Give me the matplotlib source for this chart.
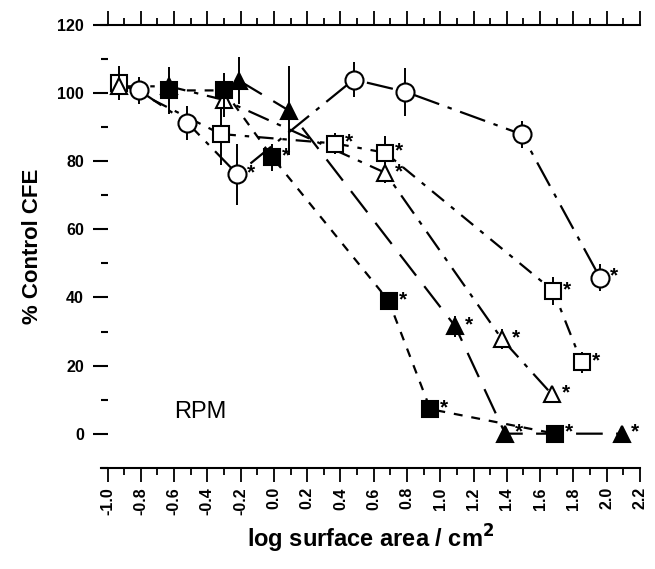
import matplotlib
matplotlib.use("Agg")
import matplotlib.pyplot as plt
from matplotlib.ticker import MultipleLocator, FormatStrFormatter

plt.rcParams['font.family'] = ['Liberation Sans', 'DejaVu Sans']
plt.rcParams['font.weight'] = 'bold'

# data (x = log surface area, y = % control CFE)
circ_x = [-0.81, -0.52, -0.22, 0.48, 0.79, 1.49, 1.96]
circ_y = [100.8, 91.3, 76.2, 104.0, 100.4, 87.9, 45.8]
circ_e = [4, 5, 9, 5, 7, 4, 4]
circ_s = [0, 0, 1, 0, 0, 0, 1]

osq_x = [-0.93, -0.32, 0.37, 0.67, 1.68, 1.85]
osq_y = [103.0, 88.0, 85.2, 82.5, 41.9, 20.9]
osq_e = [5, 9, 3, 5, 4, 3]
osq_s = [0, 0, 1, 1, 1, 1]

otri_x = [-0.93, -0.63, -0.30, 0.67, 1.37, 1.67]
otri_y = [102.0, 102.0, 98.0, 76.6, 27.8, 11.6]
otri_e = [3, 3, 5, 3, 3, 2]
otri_s = [0, 0, 0, 1, 1, 1]

fsq_x = [-0.63, -0.30, -0.01, 0.69, 0.94, 1.69]
fsq_y = [100.8, 100.8, 81.2, 39.0, 7.2, 0.0]
fsq_e = [7, 5, 4, 2, 2, 1]
fsq_s = [0, 0, 1, 1, 1, 1]

ftri_x = [-0.21, 0.09, 1.09, 1.39, 2.09]
ftri_y = [103.7, 94.9, 31.5, 0.0, 0.0]
ftri_e = [7, 13, 3, 1, 1]
ftri_s = [0, 0, 1, 1, 1]

fig = plt.figure(figsize=(6.55, 5.69), dpi=100)
ax = fig.add_axes([0.154, 0.178, 0.823, 0.778])


def series(x, y, e, s, marker, filled, dashes, ms):
    fc = 'black' if filled else 'white'
    z = 4 if filled else 3
    ax.errorbar(x, y, yerr=e, fmt='none', ecolor='black', elinewidth=1.4,
                capsize=0, zorder=z)
    ax.plot(x, y, color='black', lw=1.6, dashes=dashes, zorder=2)
    ax.plot(x, y, ls='none', marker=marker, ms=ms, mfc=fc, mec='black',
            mew=1.5, zorder=z)
    # significance stars
    for xi, yi, si in zip(x, y, s):
        if si:
            ax.annotate('*', (xi, yi), xytext=(7, 1), textcoords='offset points',
                        fontsize=15, fontweight='bold', va='center', ha='left',
                        zorder=5)


series(circ_x, circ_y, circ_e, circ_s, 'o', False, (12, 4, 2, 4), 13)
series(osq_x, osq_y, osq_e, osq_s, 's', False, (7, 4, 2, 4), 12)
series(otri_x, otri_y, otri_e, otri_s, '^', False, (10, 4, 2, 4), 12)
series(fsq_x, fsq_y, fsq_e, fsq_s, 's', True, (4, 4), 12)
series(ftri_x, ftri_y, ftri_e, ftri_s, '^', True, (12, 6), 12)

ax.text(-0.44, 6.5, 'RPM', fontsize=17, fontweight='normal', ha='center', va='center')

ax.set_xlim(-1.04, 2.2)
ax.set_ylim(-10, 120)

ax.spines['left'].set_position(('data', -1.0))
ax.spines['left'].set_visible(False)
ax.spines['right'].set_visible(False)
for sp in ('top', 'bottom'):
    ax.spines[sp].set_linewidth(1.5)

ax.xaxis.set_major_locator(MultipleLocator(0.2))
ax.xaxis.set_minor_locator(MultipleLocator(0.1))
ax.xaxis.set_major_formatter(FormatStrFormatter('%.1f'))
ax.yaxis.set_major_locator(MultipleLocator(20))
ax.yaxis.set_minor_locator(MultipleLocator(10))

ax.tick_params(axis='x', which='both', top=True, bottom=True, direction='out', width=1.3)
ax.tick_params(axis='x', which='major', length=10, labelsize=11.5, pad=4, labelrotation=90)
ax.tick_params(axis='x', which='minor', length=5)
ax.tick_params(axis='y', which='major', length=11, width=1.5, labelsize=11.5, pad=6)
ax.tick_params(axis='y', which='minor', length=5, width=1.5)
for lab in ax.get_xticklabels() + ax.get_yticklabels():
    lab.set_fontweight('bold')

ax.set_xlabel('log surface area / cm$^{\\mathbf{2}}$', fontsize=17, fontweight='bold', labelpad=6)
ax.set_ylabel('% Control CFE', fontsize=16, fontweight='bold', labelpad=10)

fig.savefig('out.png', dpi=100)
